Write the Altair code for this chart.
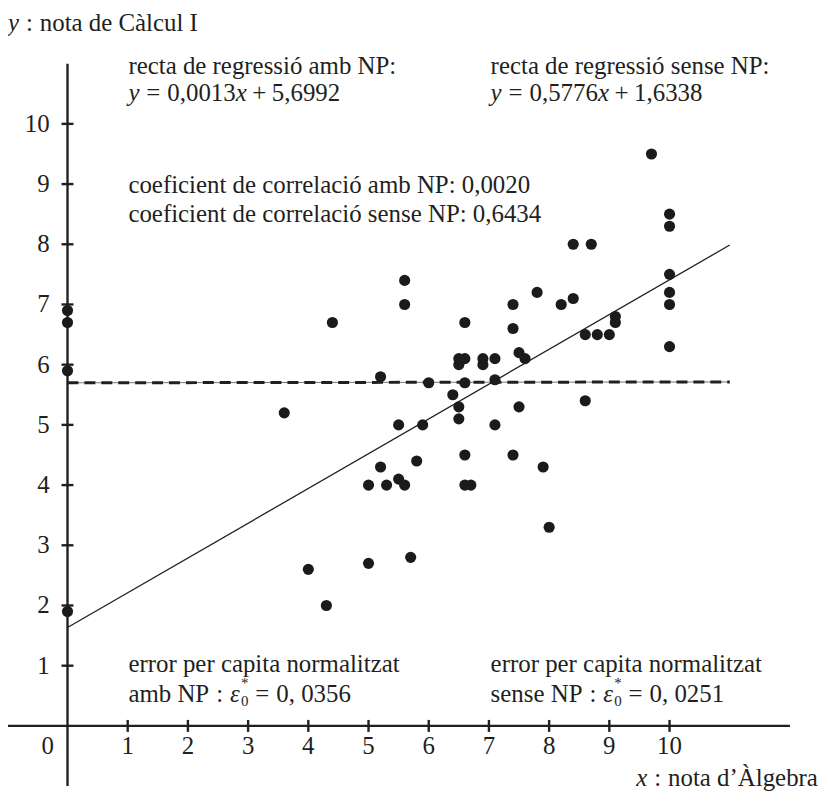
import altair as alt
import pandas as pd

# ---------------- data ----------------
np_calc = [6.9, 6.7, 5.9, 1.9]  # NP in Àlgebra -> plotted at x = 0
alg = [3.6, 4.0, 4.3, 4.4, 5.0, 5.0, 5.2, 5.2, 5.3, 5.5, 5.5, 5.6, 5.6, 5.6, 5.7, 5.8, 5.9, 6.0,
       6.4, 6.5, 6.5, 6.5, 6.5, 6.6, 6.6, 6.6, 6.6, 6.6, 6.7, 6.9, 6.9, 7.1, 7.1, 7.1,
       7.4, 7.4, 7.4, 7.5, 7.5, 7.6, 7.8, 7.9, 8.0, 8.2, 8.4, 8.4, 8.6, 8.6, 8.7, 8.8, 9.0, 9.1, 9.1,
       9.7, 10, 10, 10, 10, 10, 10]
calc = [5.2, 2.6, 2.0, 6.7, 4.0, 2.7, 5.8, 4.3, 4.0, 5.0, 4.1, 7.4, 7.0, 4.0, 2.8, 4.4, 5.0, 5.7,
        5.5, 6.1, 6.0, 5.3, 5.1, 6.7, 6.1, 5.7, 4.5, 4.0, 4.0, 6.1, 6.0, 6.1, 5.75, 5.0,
        7.0, 6.6, 4.5, 6.2, 5.3, 6.1, 7.2, 4.3, 3.3, 7.0, 7.1, 8.0, 6.5, 5.4, 8.0, 6.5, 6.5, 6.8, 6.7,
        9.5, 8.5, 8.3, 7.5, 7.2, 7.0, 6.3]
x_ticks = [1, 2, 3, 4, 5, 6, 7, 8, 9, 10]
y_ticks = [1, 2, 3, 4, 5, 6, 7, 8, 9, 10]
reg_np = (0.0013, 5.6992)     # amb NP
reg_sense = (0.5776, 1.6338)  # sense NP
line_range = [0, 11]
x_axis_range = [-1, 12]
y_axis_range = [-1, 11]

# ---------------- layout ----------------
W, H = 816, 786
OX, OY, U = 59.8, 719.5, 60.5  # origin in chart px, px per unit
xs = alt.Scale(domain=[-OX / U, (W - OX) / U], nice=False, zero=False)
ys = alt.Scale(domain=[(OY - H) / U, OY / U], nice=False, zero=False)
FONT = "Liberation Serif"
FS = 25
SS = 15
INK = "#231f20"
TL = 6 / U

def X(f):
    return alt.X(f, type="quantitative", scale=xs, axis=None)

def Y(f):
    return alt.Y(f, type="quantitative", scale=ys, axis=None)

pts = pd.DataFrame({"x": [0] * len(np_calc) + alg, "y": np_calc + calc})

axes_df = pd.DataFrame({"x": [x_axis_range[0], 0], "x2": [x_axis_range[1], 0],
                        "y": [0, y_axis_range[0]], "y2": [0, y_axis_range[1]]})
axes = alt.Chart(axes_df).mark_rule(strokeWidth=2.4, color=INK).encode(
    x=X("x"), x2="x2", y=Y("y"), y2="y2")

xt = pd.DataFrame({"x": x_ticks, "y": [-TL] * len(x_ticks), "y2": [TL] * len(x_ticks)})
xtick = alt.Chart(xt).mark_rule(strokeWidth=2.4, color=INK).encode(x=X("x"), y=Y("y"), y2="y2")
yt = pd.DataFrame({"y": y_ticks, "x": [-TL] * len(y_ticks), "x2": [TL] * len(y_ticks)})
ytick = alt.Chart(yt).mark_rule(strokeWidth=2.4, color=INK).encode(y=Y("y"), x=X("x"), x2="x2")

xl = pd.DataFrame({"x": x_ticks, "y": [0] * len(x_ticks), "t": [str(v) for v in x_ticks]})
xlab = alt.Chart(xl).mark_text(font=FONT, fontSize=FS, color=INK, align="center",
                               baseline="middle", dy=20).encode(x=X("x"), y=Y("y"), text="t:N")
yl = pd.DataFrame({"y": y_ticks, "x": [0] * len(y_ticks), "t": [str(v) for v in y_ticks]})
ylab = alt.Chart(yl).mark_text(font=FONT, fontSize=FS, color=INK, align="right",
                               baseline="middle", dx=-18).encode(x=X("x"), y=Y("y"), text="t:N")
zero = alt.Chart(pd.DataFrame({"x": [0], "y": [0], "t": ["0"]})).mark_text(
    font=FONT, fontSize=FS, color=INK, align="center", baseline="middle", dx=-20, dy=20
).encode(x=X("x"), y=Y("y"), text="t:N")

lx = line_range
sol = pd.DataFrame({"x": lx, "y": [reg_sense[0] * v + reg_sense[1] for v in lx]})
das = pd.DataFrame({"x": lx, "y": [reg_np[0] * v + reg_np[1] for v in lx]})
solid = alt.Chart(sol).mark_line(color=INK, strokeWidth=1.3).encode(x=X("x"), y=Y("y"))
dash_base = alt.Chart(das).mark_line(color="#777777", strokeWidth=1).encode(x=X("x"), y=Y("y"))
dashed = alt.Chart(das).mark_line(color=INK, strokeWidth=3, strokeDash=[11, 6]).encode(
    x=X("x"), y=Y("y"))

points = alt.Chart(pts).mark_circle(size=125, color="#1b1b1b", opacity=1).encode(
    x=X("x"), y=Y("y"))

# ---------------- annotations ----------------
WD = {" ": 250, ",": 250, ":": 278, "=": 564, "+": 564, "*": 500,
      "a": 444, "b": 500, "c": 444, "d": 500, "e": 444, "f": 333, "g": 500, "i": 278,
      "l": 278, "m": 778, "n": 500, "o": 500, "p": 500, "r": 333, "s": 389, "t": 278,
      "u": 500, "z": 444, "x": 444, "y": 444, "ó": 500, "à": 444, "À": 722, "’": 333,
      "C": 667, "I": 333, "N": 722, "P": 556, "ε": 440}

def wid(s, size=FS):
    return sum(WD.get(c, 500) for c in s) / 1000 * size

segs = []

def build(parts, px, py, dry=False):
    cur = px
    sub_start = px
    for text, kind in parts:
        if kind == "gap":
            cur += text * FS
            continue
        if kind == "sup":
            if not dry:
                segs.append(dict(t=text, px=sub_start, py=py - 11, kind="small"))
            continue
        if kind == "sub":
            sub_start = cur
            if not dry:
                segs.append(dict(t=text, px=cur, py=py + 8, kind="small"))
            cur += wid(text, SS)
            continue
        if not dry:
            segs.append(dict(t=text, px=cur, py=py, kind=kind))
        cur += wid(text)
    return cur

def eq_parts(a, b):
    return [("y", "it"), (0.278, "gap"), ("=", "rm"), (0.278, "gap"), (a, "rm"),
            ("x", "it"), (0.222, "gap"), ("+", "rm"), (0.222, "gap"), (b, "rm")]

def err_parts(lbl, v):
    return [(lbl, "rm"), (0.278, "gap"), (":", "rm"), (0.278, "gap"), ("ε", "it"),
            ("0", "sub"), ("*", "sup"), (0.278, "gap"), ("=", "rm"), (0.278, "gap"), (v, "rm")]

L, R = 129, 493
build([("y", "it"), (0.278, "gap"), (":", "rm"), (0.278, "gap"), ("nota de Càlcul I", "rm")], 8, 21)
build([("recta de regressió amb NP:", "rm")], L, 64)
build(eq_parts("0,0013", "5,6992"), L, 92)
build([("recta de regressió sense NP:", "rm")], R, 64)
build(eq_parts("0,5776", "1,6338"), R, 92)
build([("coeficient de correlació amb NP: 0,0020", "rm")], L, 184)
build([("coeficient de correlació sense NP: 0,6434", "rm")], L, 213)
build([("error per capita normalitzat", "rm")], L, 665)
build(err_parts("amb NP", "0, 0356"), L, 695)
build([("error per capita normalitzat", "rm")], R, 665)
build(err_parts("sense NP", "0, 0251"), R, 695)
bl = [("x", "it"), (0.278, "gap"), (":", "rm"), (0.278, "gap"), ("nota d’Àlgebra", "rm")]
bw = build(bl, 0, 0, dry=True)
build(bl, 822 - bw, 780)

ann = pd.DataFrame(segs)
ann["x"] = (ann["px"] - 8 - OX) / U
ann["y"] = (OY - (ann["py"] - 8)) / U

def ann_layer(kind, size, style):
    return alt.Chart(ann[ann["kind"] == kind]).mark_text(
        font=FONT, fontSize=size, fontStyle=style, color=INK, align="left", baseline="middle"
    ).encode(x=X("x"), y=Y("y"), text="t:N")

texts = [ann_layer("rm", FS, "normal"), ann_layer("it", FS, "italic"),
         ann_layer("small", SS, "normal")]

chart = alt.layer(dash_base, dashed, solid, axes, xtick, ytick, points, xlab, ylab, zero,
                  *texts).properties(
    width=W, height=H, padding=0, autosize=alt.AutoSizeParams(type="none")
).configure_view(stroke=None)

chart.save("out.html", embed_options={"renderer": "svg", "actions": False})
